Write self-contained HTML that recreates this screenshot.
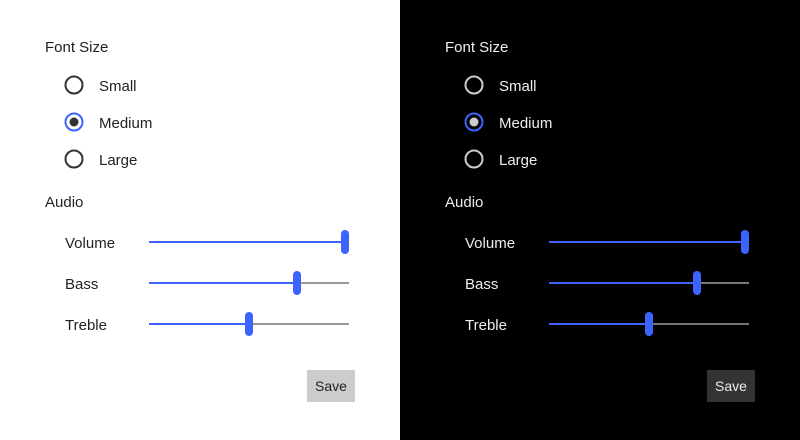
<!DOCTYPE html>
<html><head><meta charset="utf-8"><style>
html,body{margin:0;padding:0;width:800px;height:440px;overflow:hidden}
svg{display:block;font-family:"Liberation Sans","DejaVu Sans",sans-serif;font-size:15px}
</style></head><body>
<svg width="800" height="440" viewBox="0 0 800 440">
<rect x="0" y="0" width="400" height="440" fill="#fff"/>
<rect x="400" y="0" width="400" height="440" fill="#000"/>
<g fill="#222">
<text x="45" y="52">Font Size</text>
<text x="99" y="91">Small</text>
<text x="99" y="128">Medium</text>
<text x="99" y="165">Large</text>
<text x="45" y="207">Audio</text>
<text x="65" y="248">Volume</text>
<text x="65" y="289">Bass</text>
<text x="65" y="330">Treble</text>
</g>
<circle cx="74" cy="85" r="8.5" fill="none" stroke="#333" stroke-width="2"/>
<circle cx="74" cy="122" r="8.5" fill="none" stroke="#3d63ff" stroke-width="2"/>
<circle cx="74" cy="122" r="4.5" fill="#333"/>
<circle cx="74" cy="159" r="8.5" fill="none" stroke="#333" stroke-width="2"/>
<g stroke-width="2">
<line x1="149" y1="242" x2="349" y2="242" stroke="#3d63ff"/>
<line x1="149" y1="283" x2="349" y2="283" stroke="#999"/>
<line x1="149" y1="283" x2="297" y2="283" stroke="#3d63ff"/>
<line x1="149" y1="324" x2="349" y2="324" stroke="#999"/>
<line x1="149" y1="324" x2="249" y2="324" stroke="#3d63ff"/>
</g>
<g fill="#3d63ff">
<rect x="341" y="230" width="8" height="24" rx="4"/>
<rect x="293" y="271" width="8" height="24" rx="4"/>
<rect x="245" y="312" width="8" height="24" rx="4"/>
</g>
<rect x="307" y="370" width="48" height="32" fill="#ccc"/>
<text x="331" y="391" text-anchor="middle" fill="#222" font-size="14">Save</text>

<g fill="#eee">
<text x="445" y="52">Font Size</text>
<text x="499" y="91">Small</text>
<text x="499" y="128">Medium</text>
<text x="499" y="165">Large</text>
<text x="445" y="207">Audio</text>
<text x="465" y="248">Volume</text>
<text x="465" y="289">Bass</text>
<text x="465" y="330">Treble</text>
</g>
<circle cx="474" cy="85" r="8.5" fill="none" stroke="#ccc" stroke-width="2"/>
<circle cx="474" cy="122" r="8.5" fill="none" stroke="#3d63ff" stroke-width="2"/>
<circle cx="474" cy="122" r="4.5" fill="#ccc"/>
<circle cx="474" cy="159" r="8.5" fill="none" stroke="#ccc" stroke-width="2"/>
<g stroke-width="2">
<line x1="549" y1="242" x2="749" y2="242" stroke="#3d63ff"/>
<line x1="549" y1="283" x2="749" y2="283" stroke="#777"/>
<line x1="549" y1="283" x2="697" y2="283" stroke="#3d63ff"/>
<line x1="549" y1="324" x2="749" y2="324" stroke="#777"/>
<line x1="549" y1="324" x2="649" y2="324" stroke="#3d63ff"/>
</g>
<g fill="#3d63ff">
<rect x="741" y="230" width="8" height="24" rx="4"/>
<rect x="693" y="271" width="8" height="24" rx="4"/>
<rect x="645" y="312" width="8" height="24" rx="4"/>
</g>
<rect x="707" y="370" width="48" height="32" fill="#333"/>
<text x="731" y="391" text-anchor="middle" fill="#eee" font-size="14">Save</text>
</svg>
</body></html>
